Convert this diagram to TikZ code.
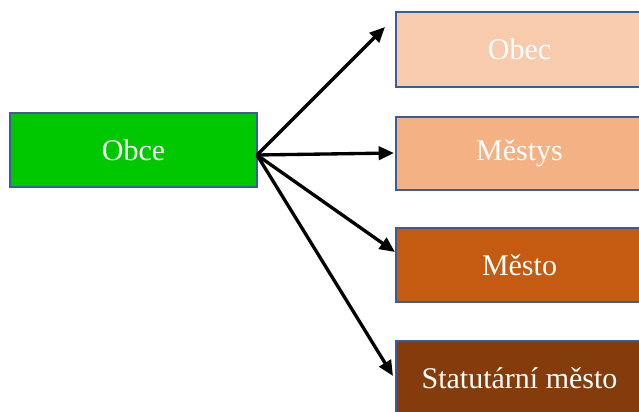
\documentclass[tikz,border=0pt]{standalone}
\usepackage{fontspec}
\setmainfont{Liberation Serif}
\usetikzlibrary{arrows.meta}
\definecolor{bordc}{HTML}{3A5C9A}
\definecolor{cgreen}{HTML}{00C800}
\definecolor{cobec}{HTML}{F8CBAD}
\definecolor{cmestys}{HTML}{F4B183}
\definecolor{cmesto}{HTML}{C55A11}
\definecolor{cstat}{HTML}{843C0C}
\tikzset{
  box/.style={draw=bordc, line width=1.5pt, minimum width=247*0.75pt, text=white,
    font=\fontsize{22.5}{26}\selectfont, inner sep=0pt},
  arr/.style={line width=2.5pt, -{Triangle[length=11.5pt,width=10pt]}}
}
\begin{document}
\begin{tikzpicture}[x=0.75pt,y=-0.75pt]
\useasboundingbox (0,0) rectangle (639,411);
\clip (0,0) rectangle (639,411);
\fill[white] (0,0) rectangle (639,411);
\node[box, fill=cgreen, minimum height=74*0.75pt] (obce) at (133.5,150) {Obce};
\node[box, fill=cobec, minimum height=75*0.75pt] (obec) at (519.5,49) {Obec};
\node[box, fill=cmestys, minimum height=73*0.75pt] (mestys) at (519.5,153.5) {Městys};
\node[box, fill=cmesto, minimum height=74*0.75pt] (mesto) at (519.5,265) {Město};
\node[box, fill=cstat, minimum height=74*0.75pt] (stat) at (519.5,378) {Statutární město};
\coordinate (s) at (257,155);
\coordinate (e1) at (385,27);
\coordinate (e2) at (394,153);
\coordinate (e3) at (395,252);
\coordinate (e4) at (393,376);
\draw[arr] (s) -- (e1);
\draw[arr] (s) -- (e2);
\draw[arr] (s) -- (e3);
\draw[arr] (s) -- (e4);
\end{tikzpicture}
\end{document}
